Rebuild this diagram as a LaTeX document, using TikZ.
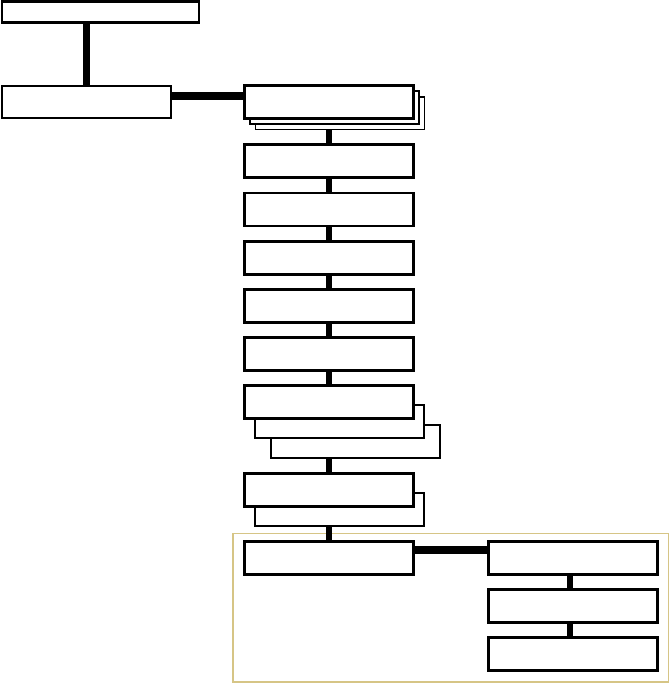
\documentclass[tikz,border=0pt]{standalone}
\usetikzlibrary{calc,shadows,backgrounds}
\definecolor{cornice}{RGB}{214,197,134}

\begin{document}
\begin{tikzpicture}[x=0.02cm, y=-0.02cm,
		line cap=butt, line join=miter,
		box/.style={draw, fill=white, line width=1.2pt, inner sep=0pt,
				minimum width=3.38cm, minimum height=0.66cm},
		pila/.style={copy shadow={shadow xshift=6.4pt, shadow yshift=-6.5pt, line width=0.65pt},
				copy shadow={shadow xshift=3.1pt, shadow yshift=-3.1pt, line width=0.65pt}},
		pilalarga/.style={copy shadow={shadow xshift=15.3pt, shadow yshift=-22.7pt},
				copy shadow={shadow xshift=6.2pt, shadow yshift=-11.3pt}},
		piladoppia/.style={copy shadow={shadow xshift=6.2pt, shadow yshift=-11.3pt}},
		link/.style={line width=3.8pt},
		hlink/.style={line width=4.3pt}]

	\useasboundingbox (0,0) rectangle (670,684);

	% ---- ramo di sinistra ----
	\node[box, minimum width=3.95cm, minimum height=0.42cm] (capo) at (100.5,12) {};
	\node[box, minimum height=0.65cm] (radice) at (86.3,102) {};

	% ---- colonna centrale ----
	\node[box, pila] (s1) at (329,102) {};
	\foreach \n/\y in {c1/161, c2/209.5, c3/258, c4/306, c5/354}
	\node[box] (\n) at (329,\y) {};
	\node[box, pilalarga] (s2) at (329,402) {};
	\node[box, piladoppia] (s3) at (329,490) {};
	\node[box] (g1) at (329,558) {};

	% ---- ramo di destra ----
	\foreach \n/\y in {r1/558, r2/606, r3/654}
	\node[box] (\n) at (573,\y) {};

	% ---- cornice e collegamenti (sotto i riquadri) ----
	\begin{scope}[on background layer]
		\draw[cornice, line width=1pt] (233,533.4) rectangle (668.6,682);
		\draw[link] (radice.north) -- (radice.north |- capo.south);
		\draw[hlink] ($(radice.east)+(0,-6)$) -- ($(s1.west)+(0,-6)$);
		\foreach \a/\b in {s1/c1, c1/c2, c2/c3, c3/c4, c4/c5, c5/s2, s2/s3, s3/g1}
		\draw[link] (\a.south) -- (\b.north);
		\foreach \a/\b in {r1/r2, r2/r3}
		\draw[link] ($(\a.south)+(-3,0)$) -- ($(\b.north)+(-3,0)$);
		\draw[hlink] ($(g1.east)+(0,-8)$) -- ($(r1.west)+(0,-8)$);
	\end{scope}

\end{tikzpicture}
\end{document}
